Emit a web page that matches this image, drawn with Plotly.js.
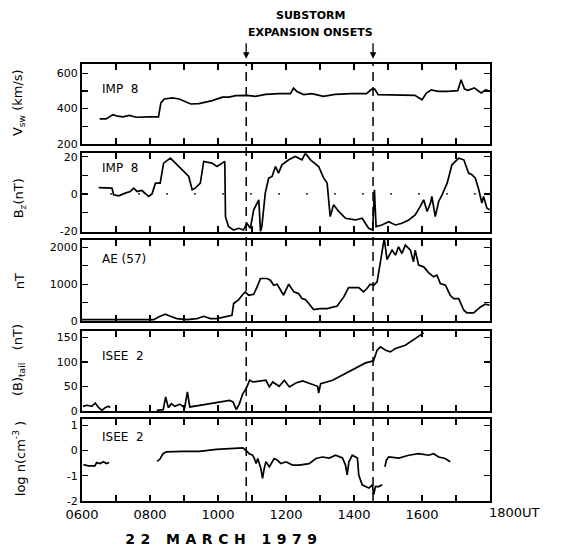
<!DOCTYPE html>
<html>
<head>
<meta charset="utf-8">
<script src="https://cdn.plot.ly/plotly-3.0.1.min.js"></script>
<style>html,body{margin:0;padding:0;background:#fff;}</style>
</head>
<body>
<div id="chart" style="width:573px;height:555px;"></div>
<script>
// ---- data (time in decimal hours UT, 22 March 1979) ----
const hourTicks = [6,7,8,9,10,11,12,13,14,15,16,17,18];
const hourLabels = ['0600','','0800','','1000','','1200','','1400','','1600','',''];
const onsetTimes = [10.83, 14.56];

const vswTime = [6.52,6.71,6.91,7.05,7.20,7.40,7.59,7.79,7.98,8.25,8.32,8.42,8.66,8.86,9.05,9.20,9.44,9.64,9.83,10.13,10.32,10.52,10.86,11.10,11.40,11.79,12.13,12.22,12.32,12.52,12.76,13.10,13.44,13.93,14.37,14.52,14.61,14.71,15.20,15.79,16.00,16.13,16.27,16.47,16.76,17.05,17.15,17.25,17.35,17.54,17.74,17.88,17.98];
const vswValue = [342,342,366,357,353,361,351,353,353,353,432,454,460,454,436,426,428,436,445,465,465,473,475,469,480,484,484,516,497,479,484,469,480,484,484,510,510,479,479,475,450,488,506,497,497,501,563,510,503,516,488,506,497];

const bzTime = [6.49,6.88,6.93,7.08,7.27,7.42,7.52,7.62,7.76,7.96,8.06,8.16,8.30,8.40,8.60,8.75,8.94,9.14,9.24,9.33,9.48,9.58,9.82,9.97,10.12,10.20,10.22,10.31,10.46,10.61,10.75,10.85,10.95,11.05,11.15,11.20,11.25,11.29,11.39,11.49,11.59,11.69,11.78,11.88,12.08,12.27,12.47,12.57,12.72,12.96,13.11,13.21,13.30,13.40,13.55,13.75,14.04,14.24,14.43,14.55,14.60,14.65,14.82,15.02,15.22,15.41,15.61,15.80,15.95,16.05,16.15,16.25,16.29,16.39,16.49,16.59,16.74,16.88,17.08,17.23,17.37,17.47,17.57,17.67,17.76,17.81,17.91,17.99];
const bzValue = [3.4,3.1,-0.5,-1.1,0.4,1.3,3.1,1.3,1.8,-1.4,0,5.8,5.8,16.6,19.3,16.6,13,9.4,2.2,3.1,5.8,17.5,16.6,14.8,16.6,17.5,-12.3,-17.7,-19.5,-18.6,-19.5,-15.9,-18.6,-8.6,-5,-3.2,-20.4,-17.7,0.4,8.5,9.4,14.8,11.2,15.7,18.4,20.2,18.4,22,18.4,14.8,8.5,5.8,-12.3,-5.9,-9.5,-13.2,-14.1,-13.2,-18.6,-19.5,2.2,-17.7,-16.8,-15,-16.8,-15.9,-14.1,-11.4,-6.8,-3.2,-9.5,-5,-1.4,-12.3,-4.1,-0.5,5.8,15.7,19.3,18.4,11.2,10.3,8.5,2.2,-5,-1.4,-7.7,-8.6];

const aeTime = [6.00,6.54,7.03,7.52,8.11,8.25,8.45,8.60,8.79,9.09,9.38,9.58,9.77,9.97,10.26,10.41,10.46,10.61,10.71,10.80,10.90,11.05,11.15,11.25,11.44,11.54,11.64,11.74,11.93,12.08,12.23,12.37,12.47,12.57,12.67,12.81,13.01,13.21,13.40,13.50,13.70,13.84,14.14,14.28,14.38,14.48,14.58,14.68,14.77,14.89,14.97,15.12,15.22,15.31,15.41,15.51,15.66,15.75,15.80,15.90,16.05,16.20,16.34,16.44,16.54,16.69,16.83,16.93,17.08,17.23,17.32,17.52,17.72,17.86,17.99];
const aeValue = [36,36,18,18,36,109,182,127,64,36,64,127,64,64,127,155,473,582,700,791,700,727,927,1155,1155,1109,973,1000,700,1000,791,745,609,582,473,309,336,336,382,400,655,909,909,791,882,1000,973,1064,1564,2250,1673,1927,1791,2018,1836,2064,1927,1609,1927,1518,1473,1309,1200,1245,1018,973,700,609,609,291,218,218,382,455,427];

const btailTime = [6.03,6.15,6.29,6.39,6.49,6.59,6.68,6.78,6.83, 7.5, 8.20,8.39,8.46,8.54,8.63,8.73,8.88,9.02,9.10,9.17,9.46,9.76,10.05,10.34,10.44,10.54,10.63,10.73,10.83,10.93,11.02,11.22,11.41,11.51,11.61,11.80,11.95,12.10,12.29,12.49,12.78,12.93,12.96,13.02,13.37,13.76,14.05,14.34,14.57,14.68,14.78,14.93,15.07,15.22,15.51,15.80,16.05];
const btailValue = [9.5,11.6,9.5,16.3,6.8,1.4,6.8,9.5,6.8, null, 1.4,2.7,28.6,6.8,15,9.5,13.6,6.8,38.8,8.2,11.6,15,18.4,21.8,18.4,2.7,15,35.4,45.6,62.6,59.2,61.2,62.6,49,59.2,50.3,62.6,49,57.1,61.2,54.4,50.3,36.7,55.8,62.6,76.2,86.4,98,102,123.8,130.6,123.8,120.4,127.2,134,147.6,159.2];

const lognTime = [6.04,6.19,6.38,6.43,6.53,6.63,6.72,6.80, 7.5, 8.21,8.29,8.38,8.48,8.97,9.46,9.95,10.43,10.73,10.82,10.92,11.02,11.07,11.12,11.17,11.26,11.31,11.36,11.41,11.51,11.65,11.75,11.85,12.00,12.19,12.39,12.68,12.88,13.07,13.27,13.46,13.66,13.75,13.80,13.85,13.95,14.10,14.14,14.24,14.34,14.44,14.54,14.58,14.63,14.73,14.83, 14.87, 14.91,14.95,15.02,15.32,15.61,15.90,16.20,16.34,16.49,16.68,16.83];
const lognValue = [-0.56,-0.61,-0.61,-0.48,-0.52,-0.45,-0.52,-0.48, null, -0.43,-0.35,-0.13,-0.06,-0.04,-0.04,0.04,0.06,0.10,0,-0.13,-0.19,-0.32,-0.52,-0.32,-0.71,-1.10,-0.71,-0.45,-0.65,-0.32,-0.39,-0.52,-0.45,-0.58,-0.58,-0.52,-0.32,-0.26,-0.30,-0.19,-0.30,-0.58,-0.97,-0.45,-0.19,-0.30,-0.97,-1.36,-1.43,-1.49,-1.36,-1.75,-1.43,-1.43,-1.36, null, -0.65,-0.39,-0.26,-0.30,-0.19,-0.13,-0.19,-0.13,-0.26,-0.32,-0.45];

const panelLabels = ['IMP\u00a0\u00a08','IMP\u00a0\u00a08','AE\u00a0(57)','ISEE\u00a0\u00a02','ISEE\u00a0\u00a02'];

// ---- figure ----
const lineStyle = {color:'black', width:1.7};
const series = [[vswTime,vswValue],[bzTime,bzValue],[aeTime,aeValue],[btailTime,btailValue],[lognTime,lognValue]];
const traces = series.map((s,i)=>({
  x:s[0], y:s[1], type:'scatter', mode:'lines', line:lineStyle, connectgaps:false,
  xaxis: i===0?'x':'x'+(i+1), yaxis: i===0?'y':'y'+(i+1), hoverinfo:'skip'
}));

const domains = [[0.817,1],[0.616,0.796],[0.412,0.597],[0.206,0.389],[0,0.188]];
const yRanges = [[200,652],[-20.5,22],[0,2200],[0,163],[-2,1.25]];
const yTickVals = [[200,300,400,500,600],[-20,-10,0,10,20],[0,500,1000,1500,2000],[0,50,100,150],[-2,-1,0,1]];
const yTickText = [['200','','400','','600'],['-20','','0','','20'],['0','','1000','','2000'],['0','50','100','150'],['-2','-1','0','1']];

const layout = {
  width:573, height:555,
  margin:{l:82, r:83, t:64, b:54},
  paper_bgcolor:'white', plot_bgcolor:'white', showlegend:false,
  font:{family:'DejaVu Sans', size:11, color:'black'},
  shapes:[], annotations:[]
};

for(let i=0;i<5;i++){
  const xk = i===0?'xaxis':'xaxis'+(i+1);
  const yk = i===0?'yaxis':'yaxis'+(i+1);
  const xid = i===0?'x':'x'+(i+1);
  const yid = i===0?'y':'y'+(i+1);
  layout[xk] = {
    domain:[0,1], anchor:yid, range:[6,18], tickmode:'array', tickvals:hourTicks,
    ticktext:hourLabels, showticklabels: i===4, ticks:'inside', ticklen:6, tickwidth:1.3,
    tickcolor:'black', showline:true, linewidth:2, linecolor:'black', mirror:'ticks',
    showgrid:false, zeroline:false, tickfont:{family:'DejaVu Sans', size:13}
  };
  if(i>0) layout[xk].matches = 'x';
  layout[yk] = {
    domain:domains[i], anchor:xid, range:yRanges[i], tickmode:'array', tickvals:yTickVals[i],
    ticktext:yTickText[i], ticks:'inside', ticklen:6, tickwidth:1.3, tickcolor:'black',
    showline:true, linewidth:2, linecolor:'black', mirror:'ticks', showgrid:false, zeroline:false,
    tickfont:{family:'DejaVu Sans', size:11}
  };
  layout.annotations.push({
    xref:'paper', yref:'paper', x:0.044, y:[0.943,0.762,0.554,0.332,0.146][i],
    xanchor:'left', yanchor:'middle', showarrow:false, text:panelLabels[i],
    font:{family:'DejaVu Sans', size:12}
  });
}

// dotted zero reference in Bz panel
layout.shapes.push({type:'line', xref:'x2', yref:'y2', x0:6, x1:18, y0:0, y1:0,
  line:{color:'black', width:1.2, dash:'2px,26px'}, layer:'below'});

// onset dashed lines and arrows
onsetTimes.forEach(t=>{
  layout.shapes.push({type:'line', xref:'x', yref:'paper', x0:t, x1:t, y0:0, y1:1,
    line:{color:'black', width:1.5, dash:'9px,6px'}});
  layout.annotations.push({xref:'x', yref:'paper', x:t, y:1.012, ax:0, ay:-17,
    showarrow:true, arrowhead:2, arrowsize:1, arrowwidth:1.3, arrowcolor:'black', text:''});
});

// y axis titles
const yTitles = [
  ['V<sub>sw</sub> (km/s)', 0.911],
  ['B<sub>z</sub>(nT)', 0.693],
  ['nT', 0.503],
  ['(B)<sub>tail</sub>\u00a0\u00a0\u00a0(nT)', 0.323],
  ['log n(cm<sup>-3</sup>\u00a0)', 0.096]
];
yTitles.forEach(([txt,y])=>{
  layout.annotations.push({xref:'paper', yref:'paper', x:-0.154, y:y, xanchor:'center',
    yanchor:'middle', textangle:-90, showarrow:false, text:txt,
    font:{family:'DejaVu Sans', size:13}});
});

// top headings
layout.annotations.push({xref:'paper', yref:'paper', x:0.561, y:1.112, showarrow:false,
  text:'<b>SUBSTORM</b>', font:{family:'DejaVu Sans', size:11}, xanchor:'center', yanchor:'middle'});
layout.annotations.push({xref:'paper', yref:'paper', x:0.561, y:1.073, showarrow:false,
  text:'<b>EXPANSION ONSETS</b>', font:{family:'DejaVu Sans', size:11}, xanchor:'center', yanchor:'middle'});

// 1800UT label and date
layout.annotations.push({xref:'x5', yref:'paper', x:18, y:-0.027, xanchor:'left', xshift:-3,
  yanchor:'middle', showarrow:false, text:'1800UT', font:{family:'DejaVu Sans', size:13}});
layout.annotations.push({xref:'paper', yref:'paper', x:0.347, y:-0.087, xanchor:'center',
  yanchor:'middle', showarrow:false, text:'<b>22 MARCH 1979</b>', font:{family:'DejaVu Sans', size:14}});

Plotly.newPlot('chart', traces, layout, {staticPlot:true, displayModeBar:false}).then(()=>{
  document.querySelectorAll('.annotation-text').forEach(el=>{
    if(el.textContent==='22 MARCH 1979') el.style.letterSpacing='5.5px';
  });
});
</script>
</body>
</html>
